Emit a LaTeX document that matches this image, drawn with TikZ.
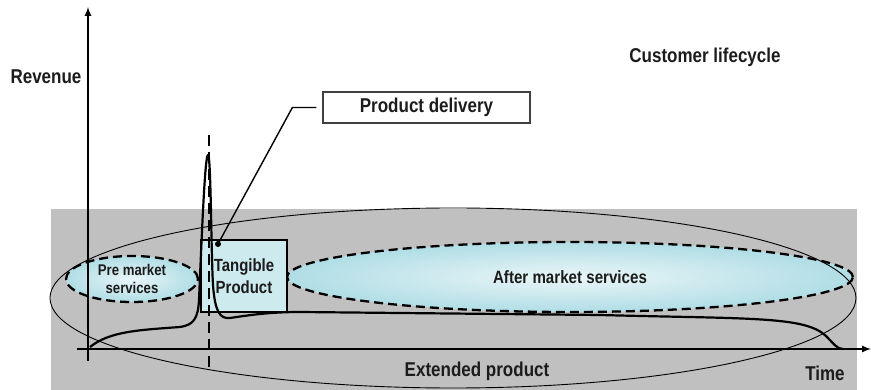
\documentclass[tikz,border=0pt]{standalone}
\usepackage{fontspec}
\setmainfont{Liberation Sans}
\newfontfamily\narrowsf[FakeStretch=0.85]{Liberation Sans}
\usetikzlibrary{shapes.geometric}

\definecolor{bggray}{RGB}{192,192,192}
\definecolor{svcedge}{RGB}{176,221,229}
\definecolor{svcmid}{RGB}{234,246,248}
\definecolor{boxcyan}{RGB}{205,234,238}
\definecolor{ink}{RGB}{28,28,28}

\begin{document}
\begin{tikzpicture}[ >=latex, x=1pt, y=-1pt,
  lbl/.style={font=\narrowsf\bfseries\fontsize{20}{22}\selectfont, text=ink, inner sep=0pt},
  svc/.style={ellipse, draw, line width=2.3pt, dash pattern=on 9pt off 5pt,
    inner color=svcmid, outer color=svcedge, inner sep=0pt, outer sep=0pt,
    align=center, text=ink},
  axis/.style={->, line width=2pt}
]

\useasboundingbox (0,0) rectangle (871,390);

% grey band behind the product
\fill[bggray] (51,209) rectangle (857,390);

% services before and after the sale
\node[svc, minimum width=132pt, minimum height=46pt,
  font=\narrowsf\bfseries\fontsize{15.5}{18}\selectfont] (pre) at (132,279) {Pre market\\services};
\node[svc, minimum width=566pt, minimum height=70pt,
  font=\narrowsf\bfseries\fontsize{17.8}{20}\selectfont] (after) at (570,277) {After market services};

% the tangible product itself
\node[draw, line width=2.2pt, fill=boxcyan, minimum width=86pt, minimum height=72pt,
  inner sep=0pt, align=center, text=ink,
  font=\narrowsf\bfseries\fontsize{17.6}{22}\selectfont] (tangible) at (244,276) {Tangible\\Product};

% extended product
\draw[line width=0.9pt] (453,298) ellipse (403 and 90);

% revenue over the lifecycle
\draw[line width=2.2pt, line join=round]
  (90,347) .. controls (110,331) and (140,330) .. (180,327)
  .. controls (194,325) and (198,318) .. (199,300)
  .. controls (202,230) and (205,155) .. (208,155)
  .. controls (211,155) and (211,250) .. (213,285)
  .. controls (215,312) and (220,319) .. (230,318)
  .. controls (250,315) and (270,312) .. (300,312)
  -- (600,315)
  .. controls (750,319) and (805,316) .. (826,336)
  .. controls (834,344) and (837,349) .. (843,349);

% delivery moment
\draw[line width=2.3pt, dash pattern=on 11pt off 6pt] (209,135) -- (209,372);

% axes
\coordinate (o) at (88,349);
\draw[axis] (88,361) -- (88,7);
\draw[axis] (77,349) -- (871,349);

% labels
\node[lbl] (revenue) at (46,77) {Revenue};
\node[lbl] (lifecycle) at (705,57) {Customer lifecycle};
\node[lbl] (extended) at (477,371) {Extended product};
\node[lbl] (time) at (825,373) {Time};

\node[lbl, draw=black!75, line width=1.2pt, minimum width=207pt, minimum height=31pt] (delivery) at (426.5,107.5) {Product delivery};

\coordinate (tip) at (218,244);
\draw[line width=1.4pt] ([xshift=-6pt]delivery.west) -- ++(-24,0) -- (tip);
\fill (tip) circle (3pt);

\end{tikzpicture}
\end{document}
